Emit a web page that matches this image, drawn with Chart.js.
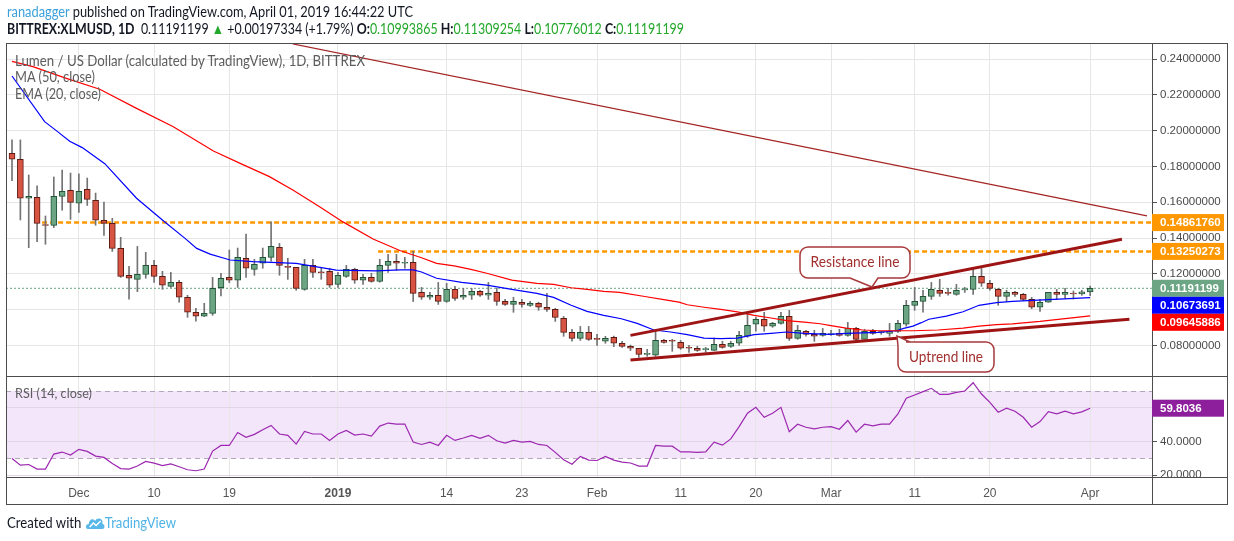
<!DOCTYPE html>
<html>
<head>
<meta charset="utf-8">
<title>XLMUSD 1D</title>
<script src="https://cdn.jsdelivr.net/npm/chart.js@4.4.1/dist/chart.umd.min.js"></script>
<style>
  html, body { margin: 0; padding: 0; background: #fff; }
  #wrap { position: relative; width: 1234px; height: 541px; overflow: hidden;
          font-family: Lato, 'Liberation Sans', sans-serif; }
  #chart { position: absolute; left: 0; top: 0; }
  .txt { position: absolute; white-space: nowrap; line-height: 16px; transform-origin: left center; }
  .head { font-size: 14.5px; color: #131722; }
  .grn { color: #22a82a; }
  .leg { font-size: 14.5px; color: #5d5d5d; left: 15px; }
</style>
</head>
<body>
<div id="wrap">
  <canvas id="chart" width="1234" height="541"></canvas>
  <div class="txt head" data-w="406" style="left:7px; top:4px;"><span style="color:#3aa0da">ranadagger</span> published on TradingView.com, April 01, 2019 16:44:22 UTC</div>
  <div class="txt head" data-w="677" style="left:7px; top:21px;"><b>BITTREX:XLMUSD, 1D</b>&nbsp; 0.11191199 <span class="grn">&#9650;</span> +0.00197334 (+1.79%) <b>O:</b><span class="grn">0.10993865</span> <b>H:</b><span class="grn">0.11309254</span> <b>L:</b><span class="grn">0.10776012</span> <b>C:</b><span class="grn">0.11191199</span></div>
  <div class="txt leg" data-w="350" style="top:53px;">Lumen / US Dollar (calculated by TradingView), 1D, BITTREX</div>
  <div class="txt leg" data-w="80" style="top:69px;">MA (50, close)</div>
  <div class="txt leg" data-w="86" style="top:86px;">EMA (20, close)</div>
  <div class="txt" data-w="77" style="left:15px; top:386px; font-size:12.5px; color:#5d5d5d;">RSI (14, close)</div>
  <div class="txt" data-w="169" style="left:7px; top:515px; font-size:14.5px; color:#131722;">Created with
    <svg width="22" height="14" viewBox="0 0 22 14" style="vertical-align:-2px">
      <path d="M3 13 C0 13 0 8 4 8 C4 3 9 2 11 5 C13 1 20 2 19 8 C22 8 22 13 19 13 Z" fill="#5ab8e8"/>
      <path d="M5 11 L9 7 L12 9.5 L17 5" stroke="#fff" fill="none" stroke-width="1.6"/>
    </svg><span style="color:#4fb3e6">TradingView</span></div>
</div>
<script>
// daily candles, first one is 2018-11-23
const startDate = '2018-11-23';

const opens = [
  .1873, .1840, .1622, .1627, .1472, .1471, .1633, .1666, .1594, .1672,
  .1610, .1499, .1482, .1342, .1191, .1169, .1197, .1247, .1186, .1130,
  .1152, .1069, .0985, .0963, .0979, .1122, .1180, .1164, .1287, .1225,
  .1259, .1292, .1348, .1238, .1236, .1113, .1247, .1210, .1214, .1141,
  .1186, .1225, .1164, .1180, .1158, .1247, .1270, .1259, .1264, .1096,
  .1069, .1080, .1046, .1113, .1069, .1080, .1102, .1080, .1096, .1046,
  .1029, .1041, .1024, .1035, .1013, .1001, .0951, .0873, .0839, .0873,
  .0836, .0823, .0845, .0812, .0795, .0784, .0750, .0745, .0828, .0825,
  .0817, .0786, .0784, .0776, .0772, .0806, .0795, .0812, .0851, .0918,
  .0946, .0907, .0923, .0962, .0839, .0879, .0862, .0856, .0860, .0867,
  .0856, .0895, .0834, .0878, .0871, .0867, .0878, .0918, .1024, .1046,
  .1074, .1108, .1093, .1085, .1110, .1113, .1186, .1147, .1113, .1074,
  .1096, .1085, .1057, .1013, .1041, .1096, .1085, .1089, .1088, .10993865
];
const highs = [
  .1948, .1948, .1752, .1691, .1523, .1741, .1780, .1763, .1758, .1735,
  .1651, .1601, .1510, .1404, .1242, .1353, .1320, .1275, .1214, .1208,
  .1163, .1080, .1007, .1035, .1180, .1203, .1333, .1344, .1422, .1281,
  .1344, .1490, .1370, .1287, .1236, .1281, .1281, .1231, .1231, .1208,
  .1247, .1231, .1197, .1203, .1281, .1309, .1309, .1292, .1326, .1124,
  .1096, .1152, .1147, .1130, .1119, .1119, .1108, .1152, .1119, .1057,
  .1069, .1057, .1046, .1041, .1091, .1007, .0962, .0890, .0906, .0906,
  .0862, .0851, .0852, .0823, .0802, .0784, .0778, .0879, .0834, .0834,
  .0828, .0800, .0795, .0789, .0841, .0823, .0823, .0879, .0974, .0957,
  .0985, .0929, .0985, .0996, .0912, .0884, .0884, .0895, .0884, .0890,
  .0929, .0901, .0890, .0890, .0878, .0923, .0940, .1052, .1124, .1108,
  .1152, .1169, .1119, .1141, .1124, .1225, .1230, .1164, .1119, .1108,
  .1102, .1091, .1068, .1057, .1096, .1113, .1119, .1104, .1108, .11309254
];
const lows = [
  .1720, .1501, .1346, .1380, .1365, .1458, .1555, .1504, .1543, .1582,
  .1471, .1415, .1325, .1180, .1058, .1100, .1175, .1152, .1113, .1124,
  .1041, .0957, .0935, .0961, .0968, .1076, .1150, .1124, .1180, .1192,
  .1231, .1270, .1192, .1169, .1108, .1108, .1180, .1169, .1124, .1124,
  .1180, .1147, .1141, .1153, .1153, .1208, .1219, .1231, .1045, .1057,
  .1057, .1029, .1041, .1052, .1057, .1057, .1074, .1057, .1024, .1024,
  .0985, .1013, .1018, .0996, .0990, .0934, .0851, .0823, .0828, .0828,
  .0800, .0812, .0793, .0789, .0771, .0733, .0739, .0739, .0812, .0767,
  .0778, .0761, .0767, .0761, .0772, .0784, .0789, .0800, .0845, .0879,
  .0879, .0901, .0918, .0828, .0834, .0851, .0823, .0851, .0856, .0851,
  .0851, .0823, .0834, .0862, .0862, .0851, .0873, .0907, .0996, .0985,
  .1057, .1074, .1080, .1080, .1096, .1085, .1130, .1108, .1024, .1046,
  .1074, .1050, .1005, .0990, .1041, .1057, .1063, .1059, .1080, .10776012
];
const closes = [
  .1840, .1622, .1633, .1482, .1470, .1633, .1661, .1599, .1661, .1616,
  .1499, .1482, .1342, .1186, .1175, .1197, .1247, .1186, .1136, .1152,
  .1069, .0985, .0963, .0979, .1119, .1175, .1164, .1292, .1231, .1253,
  .1292, .1354, .1247, .1236, .1119, .1247, .1208, .1206, .1136, .1192,
  .1225, .1164, .1180, .1158, .1247, .1270, .1259, .1264, .1091, .1069,
  .1080, .1046, .1113, .1063, .1080, .1102, .1080, .1091, .1046, .1029,
  .1046, .1029, .1035, .1013, .1001, .0957, .0873, .0839, .0873, .0834,
  .0834, .0839, .0812, .0795, .0784, .0750, .0752, .0828, .0817, .0823,
  .0784, .0784, .0772, .0778, .0806, .0789, .0812, .0856, .0912, .0946,
  .0907, .0923, .0962, .0839, .0884, .0862, .0851, .0867, .0862, .0856,
  .0895, .0834, .0878, .0867, .0873, .0878, .0923, .1024, .1046, .1074,
  .1113, .1091, .1091, .1108, .1113, .1186, .1147, .1119, .1074, .1096,
  .1085, .1057, .1013, .1041, .1096, .1085, .1096, .1087, .10993865, .11191199
];

// RSI (14, close), one value per candle
const rsiValues = [
  30.0, 26.0, 26.4, 23.7, 23.7, 32.6, 33.8, 32.0, 35.4, 34.2,
  31.4, 30.6, 27.0, 24.0, 23.7, 25.5, 28.2, 27.2, 25.8, 26.8,
  25.1, 23.3, 22.7, 23.7, 34.4, 37.7, 37.7, 45.4, 42.5, 44.3,
  47.0, 49.6, 44.5, 43.7, 38.5, 46.0, 44.5, 44.5, 40.7, 44.5,
  46.6, 43.9, 44.5, 43.3, 49.2, 51.0, 50.4, 50.4, 39.7, 38.3,
  39.7, 37.7, 43.7, 40.7, 42.1, 43.7, 41.9, 43.7, 40.5, 39.1,
  40.7, 39.7, 40.1, 38.3, 37.7, 33.6, 29.2, 26.6, 31.2, 29.0,
  28.8, 31.2, 29.0, 27.8, 27.3, 25.5, 25.5, 37.7, 37.3, 37.3,
  33.9, 33.9, 33.6, 33.9, 39.7, 37.9, 41.6, 48.9, 56.8, 60.3,
  54.4, 56.8, 60.3, 45.8, 50.3, 48.5, 47.5, 48.5, 48.9, 47.3,
  52.5, 45.6, 50.3, 49.3, 50.3, 50.3, 56.4, 65.7, 67.6, 69.6,
  71.6, 68.0, 68.0, 69.2, 70.0, 74.9, 68.2, 63.3, 57.4, 59.8,
  58.0, 54.4, 48.5, 51.9, 57.8, 56.4, 58.0, 56.4, 57.6, 59.8036
];

// MA (50) and EMA (20), x = days since startDate
const maDays = [0, 2.5, 6.5, 10.5, 14.9, 19.3, 24.1, 27.3, 30.8, 33.6, 36.8, 39.6, 43.2, 46.4, 49,
  50.8, 52.9, 54.9, 56.8, 59.8, 62.8, 64.8, 66.9, 68.8, 70.8, 72.7, 75.9, 77.8, 79.8, 80.8,
  82.8, 84.8, 86.8, 88.8, 90.8, 92.7, 94.8, 96.7, 97.8, 99.8, 101.8, 103.7, 105.8, 107.8,
  110.8, 113.8, 115.7, 117.8, 119.7, 123, 126, 129];
const maValues = [.2387, .2357, .2292, .2231, .2124, .2022, .1886, .1817, .1743, .1668, .1575, .1490, .1394, .1330, .1290,
  .1258, .1244, .1225, .1203, .1165, .1147, .1141, .1122, .1113, .1102, .1096, .1072, .1057, .1042, .1027,
  .1013, .1001, .0987, .0968, .0953, .0938, .0930, .0921, .0912, .0897, .0886, .0882, .0882, .0882,
  .0886, .0897, .0908, .0916, .0920, .0934, .0950, .09645886];
const emaDays = [0, 3.9, 5.3, 6.9, 8.4, 11.1, 14.9, 18.1, 20.7, 22.1, 23.7, 26.1, 28.8, 34, 38.8,
  43.6, 46.4, 48, 49, 50.8, 53.8, 56.8, 59.8, 62.8, 64.8, 66.9, 68.8, 70.8, 72.9, 74.8,
  76.8, 78.8, 80.8, 82.8, 84.8, 86.8, 88.8, 90.8, 92.7, 94.8, 97.8, 99.8, 103.7, 105.8, 106.7,
  107.8, 108.8, 109.7, 111.8, 113.8, 115.7, 117.8, 119.7, 123.4, 129];
const emaValues = [.2305, .2050, .2000, .1941, .1905, .1815, .1622, .1496, .1398, .1342, .1310, .1277, .1268, .1258, .1221,
  .1216, .1222, .1222, .1210, .1175, .1152, .1137, .1113, .1091, .1068, .1024, .0990, .0968, .0949, .0923,
  .0886, .0875, .0860, .0841, .0838, .0841, .0860, .0867, .0875, .0867, .0862, .0867, .0873, .0882, .0895,
  .0908, .0927, .0946, .0964, .0988, .1024, .1039, .1046, .1054, .10673691];

// drawn trend lines and levels
const resistanceDays = [74, 132.8], resistanceValues = [0.0856, 0.1393];
const uptrendDays = [74, 133.7], uptrendValues = [0.0718, 0.0946];
const longTrendDays = [33.6, 135.8], longTrendValues = [0.2484, 0.1523];
const levelValues = [0.14861760, 0.13250273];
const levelStartDays = [3.6, 43.8];
const lastPrice = 0.11191199;

// axes
const tickDates = ['2018-12-01', '2018-12-10', '2018-12-19', '2019-01-01', '2019-01-14', '2019-01-23',
  '2019-02-01', '2019-02-11', '2019-02-20', '2019-03-01', '2019-03-11', '2019-03-20', '2019-04-01'];
const tickLabels = ['Dec', '10', '19', '2019', '14', '23', 'Feb', '11', '20', 'Mar', '11', '20', 'Apr'];
const priceTicks = [0.08, 0.10, 0.12, 0.14, 0.16, 0.18, 0.20, 0.22, 0.24];
const rsiTicks = [20, 40, 60];

// squeeze the html texts to the widths they have in the snapshot
document.querySelectorAll('[data-w]').forEach(el => {
  const w = el.getBoundingClientRect().width;
  if (w > 0) el.style.transform = 'scaleX(' + (+el.dataset.w / w) + ')';
});

const dayOf = d => (Date.parse(d) - Date.parse(startDate)) / 86400000;
const tickDays = tickDates.map(dayOf);
const X_MIN = -0.72, X_MAX = 136.4;

const UP = '#6ba583', UP_EDGE = '#225437', DOWN = '#d75442', DOWN_EDGE = '#5b1a13';
const isUp = closes.map((c, i) => c >= opens[i]);
const pts = (days, vals) => days.map((d, i) => ({x: d, y: vals[i]}));
const line = (data, color, width, order, extra) => Object.assign({
  type: 'line', data, borderColor: color, borderWidth: width, pointRadius: 0,
  fill: false, tension: 0, yAxisID: 'y', order
}, extra || {});

Chart.defaults.font.family = "'Liberation Sans', Arial, sans-serif";

const panes = {
  id: 'panes',
  beforeDraw(chart) {
    const {ctx, chartArea: a} = chart;
    const r = chart.scales.yr;
    ctx.save();
    ctx.fillStyle = '#f3e6fa';
    const t = r.getPixelForValue(70), b = r.getPixelForValue(30);
    ctx.fillRect(a.left, t, a.right - a.left, b - t);
    ctx.restore();
  },
  beforeDatasetsDraw(chart) {
    const {ctx, chartArea: a} = chart;
    const r = chart.scales.yr;
    ctx.save();
    ctx.strokeStyle = '#b3a8ba';
    ctx.lineWidth = 1;
    ctx.setLineDash([5, 4]);
    [70, 30].forEach(v => {
      const y = Math.round(r.getPixelForValue(v)) + 0.5;
      ctx.beginPath(); ctx.moveTo(a.left, y); ctx.lineTo(a.right, y); ctx.stroke();
    });
    ctx.restore();
  },
  afterDraw(chart) {
    const {ctx, chartArea: a} = chart;
    const y = chart.scales.y, r = chart.scales.yr;
    ctx.save();

    // frame and pane dividers
    ctx.strokeStyle = '#4d4d4d';
    ctx.lineWidth = 1;
    const L = 6.5, R = 1227.5, T = 43.5, B = 504.5;
    ctx.strokeRect(L, T, R - L, B - T);
    const xa = Math.round(a.right) + 0.5;
    const yDiv = Math.round(y.bottom) + 0.5, yBot = Math.round(a.bottom) + 0.5;
    ctx.beginPath();
    ctx.moveTo(xa, T); ctx.lineTo(xa, B);
    ctx.moveTo(L, yDiv); ctx.lineTo(R, yDiv);
    ctx.moveTo(L, yBot); ctx.lineTo(R, yBot);
    ctx.stroke();

    // value badges on the price scale, pushed down when they would overlap
    const H = 17;
    const drawBadges = (scale, list) => {
      list = list.map(b => Object.assign({py: scale.getPixelForValue(b.v)}, b)).sort((p, q) => p.py - q.py);
      let prevBottom = -Infinity;
      list.forEach(b => {
        let top = b.py - H / 2;
        if (top < prevBottom) top = prevBottom;
        prevBottom = top + H;
        ctx.fillStyle = b.color;
        ctx.fillRect(a.right, top, 72, H);
        ctx.fillStyle = '#fff';
        ctx.font = "bold 11.5px 'Liberation Sans', Arial, sans-serif";
        ctx.textBaseline = 'middle';
        ctx.textAlign = 'left';
        ctx.fillText(b.text, a.right + 8, top + H / 2 + 0.5);
      });
    };
    const ema = emaValues[emaValues.length - 1], ma = maValues[maValues.length - 1];
    const rsi = rsiValues[rsiValues.length - 1];
    drawBadges(y, [
      {v: levelValues[0], color: '#ff9800', text: levelValues[0].toFixed(8)},
      {v: levelValues[1], color: '#ff9800', text: levelValues[1].toFixed(8)},
      {v: lastPrice, color: UP, text: lastPrice.toFixed(8)},
      {v: ema, color: '#0000ff', text: ema.toFixed(8)},
      {v: ma, color: '#ff0000', text: ma.toFixed(8)}
    ]);
    drawBadges(r, [{v: rsi, color: '#8e1f9c', text: rsi.toFixed(4)}]);

    // callouts
    const callout = (x0, y0, w, h, tail, text, textW) => {
      const rad = 8;
      ctx.beginPath();
      ctx.moveTo(x0 + rad, y0);
      ctx.lineTo(x0 + w - rad, y0);
      ctx.arcTo(x0 + w, y0, x0 + w, y0 + rad, rad);
      ctx.lineTo(x0 + w, y0 + h - rad);
      ctx.arcTo(x0 + w, y0 + h, x0 + w - rad, y0 + h, rad);
      if (tail.side === 'bottom') {
        ctx.lineTo(tail.b, y0 + h); ctx.lineTo(tail.tx, tail.ty); ctx.lineTo(tail.a, y0 + h);
      }
      ctx.lineTo(x0 + rad, y0 + h);
      ctx.arcTo(x0, y0 + h, x0, y0 + h - rad, rad);
      ctx.lineTo(x0, y0 + rad);
      if (tail.side === 'top') {
        ctx.lineTo(x0, y0 + 4); ctx.lineTo(tail.tx, tail.ty); ctx.lineTo(x0 + 12, y0);
      } else {
        ctx.arcTo(x0, y0, x0 + rad, y0, rad);
      }
      ctx.closePath();
      ctx.fillStyle = '#fff';
      ctx.fill();
      ctx.strokeStyle = '#a8393b';
      ctx.lineWidth = 1.5;
      ctx.stroke();
      ctx.fillStyle = '#a1302f';
      ctx.font = "15px Lato, 'Liberation Sans', sans-serif";
      ctx.textAlign = 'center';
      ctx.textBaseline = 'middle';
      ctx.fillText(text, x0 + w / 2, y0 + h / 2, textW);
    };
    callout(800, 247, 110, 31, {side: 'bottom', a: 850, b: 878, tx: 872, ty: 287}, 'Resistance line', 89);
    callout(898, 342, 96, 30, {side: 'top', tx: 897, ty: 336}, 'Uptrend line', 74);
    ctx.restore();
  }
};

const candleIdx = opens.map((_, i) => i);
const levelLine = i => [{x: levelStartDays[i], y: levelValues[i]}, {x: X_MAX, y: levelValues[i]}];

new Chart(document.getElementById('chart'), {
  type: 'bar',
  data: {
    datasets: [
      line(levelLine(0), '#ff9800', 2.5, 9, {borderDash: [5, 3]}),
      line(levelLine(1), '#ff9800', 2.5, 9, {borderDash: [5, 3]}),
      line([{x: X_MIN, y: lastPrice}, {x: X_MAX, y: lastPrice}], UP, 1, 9, {borderDash: [2, 2]}),
      {
        type: 'bar', yAxisID: 'y', order: 8, grouped: false, barThickness: 1,
        data: candleIdx.map(i => ({x: i, y: [lows[i], highs[i]]})),
        backgroundColor: '#737375'
      },
      {
        type: 'bar', yAxisID: 'y', order: 7, grouped: false, barThickness: 6, minBarLength: 1,
        data: candleIdx.map(i => ({x: i, y: [opens[i], closes[i]]})),
        backgroundColor: isUp.map(u => u ? UP : DOWN),
        borderColor: isUp.map(u => u ? UP_EDGE : DOWN_EDGE),
        borderWidth: 1, borderSkipped: false
      },
      line(pts(maDays, maValues), '#ff0000', 1.2, 3),
      line(pts(emaDays, emaValues), '#0000ff', 1.2, 3),
      line(pts(longTrendDays, longTrendValues), '#a52424', 1.3, 2),
      line(pts(resistanceDays, resistanceValues), '#9e1414', 3, 2),
      line(pts(uptrendDays, uptrendValues), '#9e1414', 3, 2),
      line(rsiValues.map((v, i) => ({x: i, y: v})), '#9c27b0', 1.2, 1, {yAxisID: 'yr'})
    ]
  },
  options: {
    responsive: false,
    animation: false,
    events: [],
    layout: {padding: {left: 6, top: 44, right: 6, bottom: 37}},
    plugins: {legend: {display: false}, tooltip: {enabled: false}},
    scales: {
      x: {
        type: 'linear', min: X_MIN, max: X_MAX, offset: false,
        grid: {color: '#e6e6e6', drawTicks: false, offset: false},
        border: {display: false},
        afterBuildTicks: s => { s.ticks = tickDays.map(v => ({value: v})); },
        afterFit: s => { s.height = 27; },
        ticks: {
          padding: 9, color: '#555', autoSkip: false, maxRotation: 0,
          callback: (v, i) => tickLabels[i],
          font: c => ({size: 12, weight: c.tick && c.tick.label === '2019' ? 'bold' : 'normal'})
        }
      },
      y: {
        type: 'linear', position: 'right', stack: 'panes', stackWeight: 332,
        min: 0.06291, max: 0.24838,
        grid: {color: '#e6e6e6', tickColor: '#555', tickLength: 5},
        border: {display: false},
        afterBuildTicks: s => { s.ticks = priceTicks.map(v => ({value: v})); },
        afterFit: s => { s.width = 76; },
        ticks: {padding: 3, color: '#4a4a4a', font: {size: 11.5}, callback: v => v.toFixed(8)}
      },
      yr: {
        type: 'linear', position: 'right', stack: 'panes', stackWeight: 101,
        min: 19.0, max: 78.9,
        grid: {color: '#e0d6e6', tickColor: '#555', tickLength: 5},
        border: {display: false},
        afterBuildTicks: s => { s.ticks = rsiTicks.map(v => ({value: v})); },
        afterFit: s => { s.width = 76; },
        ticks: {padding: 3, color: '#4a4a4a', font: {size: 11.5}, callback: v => v.toFixed(4)}
      }
    }
  },
  plugins: [panes]
});
</script>
</body>
</html>
